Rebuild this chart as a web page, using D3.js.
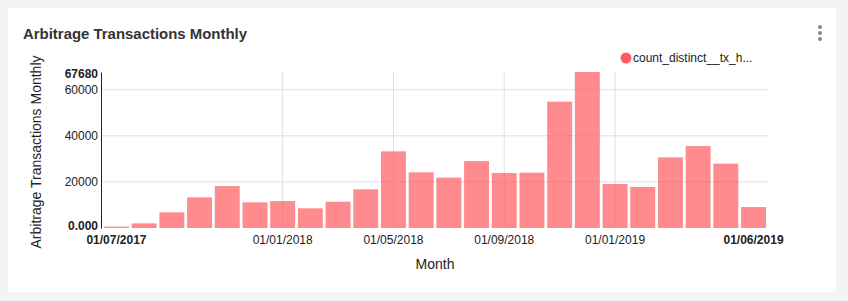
<!DOCTYPE html>
<html>
<head>
<meta charset="utf-8">
<script src="https://cdn.jsdelivr.net/npm/d3@7"></script>
<style>
  body { margin: 0; background: #f4f4f4; font-family: "Liberation Sans", Arial, sans-serif; }
  svg { display: block; }
</style>
</head>
<body>
<svg id="chart" width="848" height="301"></svg>
<script>
// months from 01/07/2017 to 01/06/2019
let months = ['2017-07','2017-08','2017-09','2017-10','2017-11','2017-12',
  '2018-01','2018-02','2018-03','2018-04','2018-05','2018-06',
  '2018-07','2018-08','2018-09','2018-10','2018-11','2018-12',
  '2019-01','2019-02','2019-03','2019-04','2019-05','2019-06']
let txCounts = [600, 2000, 6800, 13300, 18200, 11150,
  11700, 8550, 11400, 16800, 33250, 24150,
  21850, 29050, 23850, 24000, 54800, 67680,
  19100, 17800, 30650, 35550, 27900, 9100]

let yTicks = [0, 20000, 40000, 60000, 67680]
let xTickMonths = ['2017-07', '2018-01', '2018-05', '2018-09', '2019-01', '2019-06']
let xGridMonths = ['2018-01', '2018-05', '2018-09', '2019-01']
let seriesName = 'count_distinct__tx_h...'

let svg = d3.select('#chart')

// card
svg.append('rect')
  .attr('x', 8).attr('y', 8)
  .attr('width', 828).attr('height', 284)
  .attr('rx', 2)
  .attr('fill', '#fff')

svg.append('text')
  .attr('x', 23).attr('y', 39)
  .attr('font-size', 15)
  .attr('font-weight', 'bold')
  .attr('fill', '#333')
  .attr('textLength', 224)
  .attr('lengthAdjust', 'spacingAndGlyphs')
  .text('Arbitrage Transactions Monthly')

// kebab menu
svg.selectAll('.dot')
  .data([27, 33, 39])
  .enter().append('circle')
  .attr('cx', 820).attr('cy', d => d)
  .attr('r', 2)
  .attr('fill', '#888')

let margin = { top: 72, left: 101, right: 768, bottom: 228 }

let x = d3.scaleBand().domain(months).range([104, 766]).paddingInner(0.1).paddingOuter(0)
let y = d3.scaleLinear().domain([0, 67680]).range([margin.bottom, margin.top])

let fmtTick = d => {
  let [yy, mm] = d.split('-')
  return '01/' + mm + '/' + yy
}

// grid
svg.append('g').selectAll('line')
  .data(yTicks.filter(d => d > 0 && d < 67680))
  .enter().append('line')
  .attr('x1', margin.left).attr('x2', margin.right)
  .attr('y1', d => y(d)).attr('y2', d => y(d))
  .attr('stroke', '#e0e0e0')

svg.append('g').selectAll('line')
  .data(xGridMonths)
  .enter().append('line')
  .attr('x1', d => x(d) + x.bandwidth() / 2).attr('x2', d => x(d) + x.bandwidth() / 2)
  .attr('y1', margin.top).attr('y2', margin.bottom)
  .attr('stroke', '#e0e0e0')

// bars
svg.append('g').selectAll('rect')
  .data(months.map((m, i) => ({ month: m, value: txCounts[i] })))
  .enter().append('rect')
  .attr('x', d => x(d.month))
  .attr('y', d => y(d.value))
  .attr('width', x.bandwidth())
  .attr('height', d => margin.bottom - y(d.value))
  .attr('fill', '#ff5a5f')
  .attr('fill-opacity', 0.7)

// y axis
let yAxis = svg.append('g')
  .attr('transform', 'translate(' + margin.left + ',0)')
  .call(d3.axisLeft(y).tickValues(yTicks).tickSize(0).tickPadding(3)
    .tickFormat(d => d === 0 ? '0.000' : d3.format('d')(d)))
yAxis.select('.domain').attr('stroke', '#222')
yAxis.selectAll('text')
  .attr('font-family', '"Liberation Sans", Arial, sans-serif')
  .attr('font-size', 12)
  .attr('fill', '#222')
  .attr('font-weight', d => (d === 0 || d === 67680) ? 'bold' : 'normal')
  .attr('dy', d => d === 0 ? '0.1em' : d === 67680 ? '0.45em' : '0.32em')

// x axis
let xAxis = svg.append('g')
  .attr('transform', 'translate(0,' + margin.bottom + ')')
  .call(d3.axisBottom(x).tickValues(xTickMonths).tickSize(0).tickPadding(7).tickFormat(fmtTick))
xAxis.select('.domain').remove()
xAxis.selectAll('text')
  .attr('font-family', '"Liberation Sans", Arial, sans-serif')
  .attr('font-size', 12)
  .attr('fill', '#222')
  .attr('font-weight', d => (d === '2017-07' || d === '2019-06') ? 'bold' : 'normal')

// axis titles
svg.append('text')
  .attr('transform', 'translate(41,152) rotate(-90)')
  .attr('text-anchor', 'middle')
  .attr('font-size', 14)
  .attr('fill', '#222')
  .text('Arbitrage Transactions Monthly')

svg.append('text')
  .attr('x', 435).attr('y', 269)
  .attr('text-anchor', 'middle')
  .attr('font-size', 14)
  .attr('fill', '#222')
  .text('Month')

// legend
svg.append('circle')
  .attr('cx', 626).attr('cy', 58)
  .attr('r', 5.5)
  .attr('fill', '#ff5a5f')
svg.append('text')
  .attr('x', 633).attr('y', 62)
  .attr('font-size', 12)
  .attr('fill', '#222')
  .text(seriesName)
</script>
</body>
</html>
